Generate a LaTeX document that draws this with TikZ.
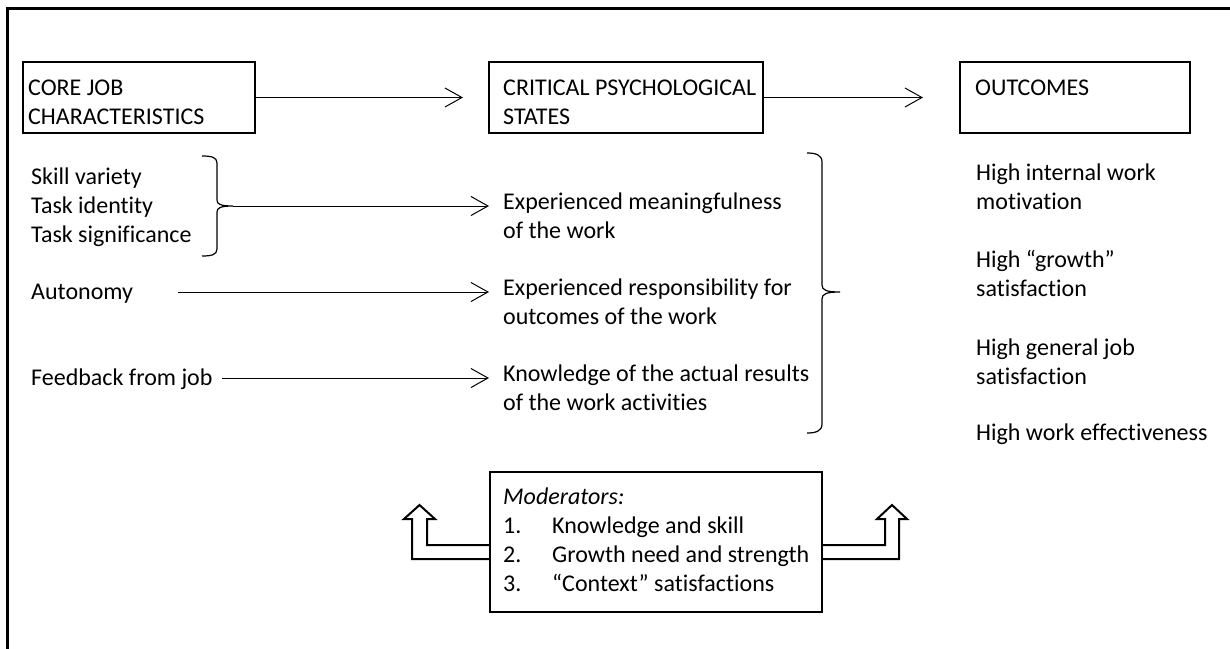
\documentclass[tikz,border=0pt]{standalone}
\usepackage{fontspec}
\setmainfont{Carlito}[Ligatures=CommonOff]
\usetikzlibrary{arrows.meta}
\begin{document}
\begin{tikzpicture}[x=1pt,y=-1pt,
  txt/.style={inner sep=0pt, anchor=north west, align=left,
              font=\fontsize{24}{29}\selectfont},
  hbox/.style={draw, line width=2pt, inner sep=0pt},
  conn/.style={line width=1pt, -{Straight Barb[length=17pt,width=19pt]}},
  brace/.style={line width=1.2pt},
  blockarrow/.style={line width=2pt, line join=miter}]
\useasboundingbox (0,0) rectangle (1230,648);

% every text block starts with a strut so its top sits a fixed height above the first baseline
\def\fl{\rule{0pt}{20pt}}

% outer frame (top and left edges)
\draw[line width=3pt] (1232,8) -- (7,8) -- (7,650);

% heading boxes
\node[hbox, minimum width=232pt, minimum height=71pt] (b1) at (139,97.5) {};
\node[hbox, minimum width=274pt, minimum height=71pt] (b2) at (626,97.5) {};
\node[hbox, minimum width=230pt, minimum height=71pt] (b3) at (1075,97.5) {};
\node[txt] (t1) at (28,75) {\fl CORE JOB\\CHARACTERISTICS};
\node[txt] (t2) at (503,75) {\fl CRITICAL PSYCHOLOGICAL\\STATES};
\node[txt] (t3) at (975,75) {\fl OUTCOMES};

\coordinate (h1) at (463,97.5);
\coordinate (h2) at (923,97.5);
\draw[conn] (b1.east) -- (h1);
\draw[conn] (b2.east) -- (h2);

% core job characteristics
\node[txt] (sv) at (31,164.5) {\fl Skill variety\\Task identity\\Task significance};
\node[txt] (au) at (31,279) {\fl Autonomy};
\node[txt] (fb) at (31,365) {\fl Feedback from job};

% brace grouping the first three characteristics
\draw[brace] (202,156) .. controls (211,156) and (217,157) .. (217,163)
  -- (217,200) .. controls (217,204) and (220,206) .. (233,206)
  .. controls (220,206) and (217,208) .. (217,212)
  -- (217,249) .. controls (217,255) and (211,256) .. (202,256);
\coordinate (bt1) at (233,206);

% critical psychological states
\node[txt] (m1) at (503,189) {\fl Experienced meaningfulness\\of the work};
\node[txt] (m2) at (503,275) {\fl Experienced responsibility for\\outcomes of the work};
\node[txt] (m3) at (503,361) {\fl Knowledge of the actual results\\of the work activities};

\coordinate (e1) at (489,206);
\coordinate (s2) at (178,292);
\coordinate (e2) at (489,292);
\coordinate (s3) at (222,378);
\coordinate (e3) at (489,378);
\draw[conn] (bt1) -- (e1);
\draw[conn] (s2) -- (e2);
\draw[conn] (s3) -- (e3);

% brace grouping the three states
\draw[brace] (807,153) .. controls (816,153) and (822,155) .. (822,162)
  -- (822,285) .. controls (822,290) and (826,292) .. (840,292)
  .. controls (826,292) and (822,294) .. (822,299)
  -- (822,424) .. controls (822,431) and (816,433) .. (807,433);

% outcomes
\node[txt] (o1) at (976,160) {\fl High internal work\\motivation};
\node[txt] (o2) at (976,247) {\fl High “growth”\\satisfaction};
\node[txt] (o3) at (976,335) {\fl High general job\\satisfaction};
\node[txt] (o4) at (976,420) {\fl High work effectiveness};

% moderators
\node[hbox, minimum width=332pt, minimum height=140pt] (mod) at (656,542) {};
\node[txt] (mt) at (503,484) {\fl\textit{Moderators:}\\
  \makebox[49pt][l]{1.}Knowledge and skill\\
  \makebox[49pt][l]{2.}Growth need and strength\\
  \makebox[49pt][l]{3.}“Context” satisfactions};

% hollow block arrows leaving the moderator box
\draw[blockarrow] (490,559) -- (412,559) -- (412,519) -- (404,519) -- (419.5,505)
  -- (435,519) -- (427,519) -- (427,545) -- (490,545);
\draw[blockarrow] (822,559) -- (899,559) -- (899,519) -- (907,519) -- (892,505)
  -- (877,519) -- (885,519) -- (885,545) -- (822,545);
\end{tikzpicture}
\end{document}
